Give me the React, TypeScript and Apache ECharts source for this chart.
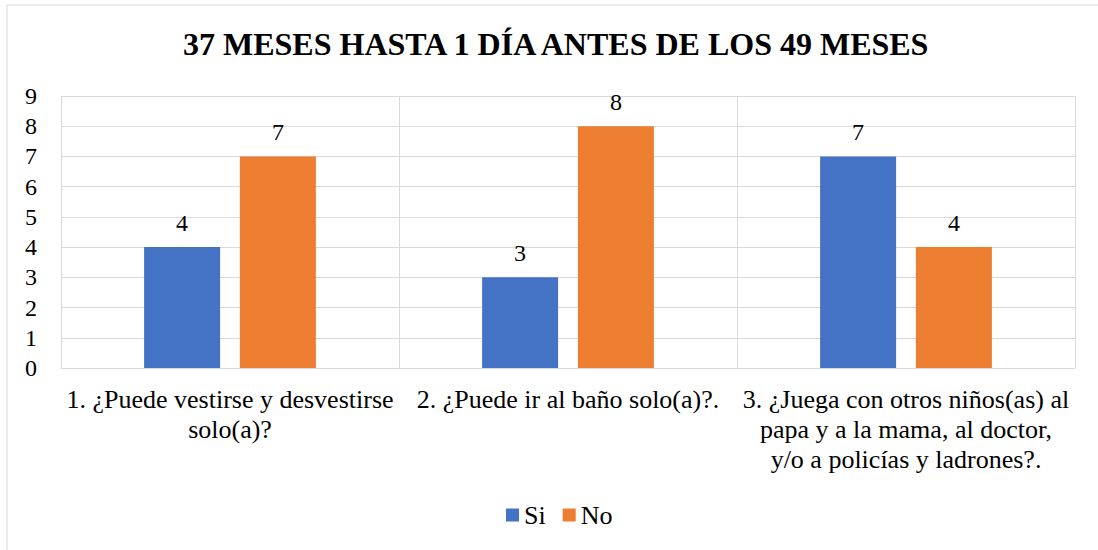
import React, { useEffect, useRef } from "react";
import * as echarts from "echarts";

const categories = [
  "1. ¿Puede vestirse y desvestirse\nsolo(a)?",
  "2. ¿Puede ir al baño solo(a)?.",
  "3. ¿Juega con otros niños(as) al\npapa y a la mama, al doctor,\ny/o a policías y ladrones?.",
];
const siValues = [4, 3, 7];
const noValues = [7, 8, 4];
const titleText = "37 MESES HASTA 1 DÍA ANTES DE LOS 49 MESES";

const FONT = "Liberation Serif";

export default function App() {
  const ref = useRef<HTMLDivElement>(null);
  useEffect(() => {
    const chart = echarts.init(ref.current!, null, { renderer: "svg" });
    const valueLabel = {
      show: true,
      position: "top",
      distance: 12,
      fontFamily: FONT,
      fontSize: 24,
      color: "#000",
    };
    chart.setOption({
      animation: false,
      backgroundColor: "#fff",
      textStyle: { fontFamily: FONT },
      title: {
        text: titleText,
        left: 178,
        top: 23,
        textStyle: { fontFamily: FONT, fontSize: 32, fontWeight: "bold", color: "#000" },
      },
      graphic: [
        {
          type: "rect",
          shape: { x: 7, y: 5, width: 1200, height: 700 },
          style: { fill: "none", stroke: "#d9d9d9", lineWidth: 1 },
          silent: true,
        },
      ],
      legend: {
        top: 497,
        left: 501,
        itemWidth: 13,
        itemHeight: 13,
        itemGap: 17,
        icon: "rect",
        textStyle: { fontFamily: FONT, fontSize: 26, color: "#000" },
        data: ["Si", "No"],
      },
      grid: { left: 61, right: 23, top: 96, bottom: 182 },
      xAxis: {
        type: "category",
        data: categories,
        axisLine: { show: true, lineStyle: { color: "#d9d9d9" } },
        axisTick: { show: false },
        splitLine: { show: true, lineStyle: { color: "#d9d9d9" } },
        axisLabel: {
          fontFamily: FONT,
          fontSize: 26,
          color: "#000",
          lineHeight: 30,
          margin: 16,
          interval: 0,
        },
      },
      yAxis: {
        type: "value",
        min: 0,
        max: 9,
        interval: 1,
        axisLine: { show: false },
        axisTick: { show: false },
        splitLine: { show: true, lineStyle: { color: "#d9d9d9" } },
        axisLabel: { fontFamily: FONT, fontSize: 24, color: "#000", margin: 24 },
      },
      series: [
        {
          name: "Si",
          type: "bar",
          data: siValues,
          barWidth: 76,
          barGap: "26%",
          itemStyle: { color: "#4472C4" },
          label: valueLabel,
        },
        {
          name: "No",
          type: "bar",
          data: noValues,
          barWidth: 76,
          barGap: "26%",
          itemStyle: { color: "#ED7D31" },
          label: valueLabel,
        },
      ],
    });
    return () => chart.dispose();
  }, []);
  return (
    <div
      ref={ref}
      style={{ position: "absolute", left: 0, top: 0, width: 1098, height: 550 }}
    />
  );
}
